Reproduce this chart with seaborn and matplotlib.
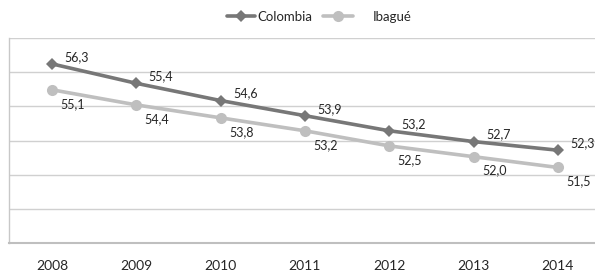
import numpy as np
import pandas as pd
import matplotlib
matplotlib.use('Agg')
import matplotlib.pyplot as plt
import seaborn as sns

# Datos
anios = ['2008', '2009', '2010', '2011', '2012', '2013', '2014']
colombia = [56.3, 55.4, 54.6, 53.9, 53.2, 52.7, 52.3]
ibague = [55.1, 54.4, 53.8, 53.2, 52.5, 52.0, 51.5]
series = ['Colombia', 'Ibagué']

df = pd.DataFrame({
    'pos': list(range(len(anios))) * 2,
    'valor': colombia + ibague,
    'serie': ['Colombia'] * len(anios) + ['Ibagué'] * len(anios),
})

sns.set_style('white')
plt.rcParams['font.family'] = ['Lato', 'DejaVu Sans']

colores = {'Colombia': '#777777', 'Ibagué': '#bfbfbf'}
marcadores = {'Colombia': 'D', 'Ibagué': 'o'}

fig = plt.figure(figsize=(5.95, 2.72), dpi=100)
ax = fig.add_axes([9 / 595, 1 - 243 / 272, 1 - 9 / 595, (243 - 38) / 272])

sns.lineplot(data=df, x='pos', y='valor', hue='serie', style='serie',
             palette=colores, markers=marcadores, dashes=False,
             linewidth=2.6, markeredgewidth=0, ax=ax)
for ln in ax.lines:
    if ln.get_marker() == 'D':
        ln.set_markersize(6)
    else:
        ln.set_markersize(8)

ax.set_xlim(-0.51, 6.44)
ax.set_ylim(48, 57.5)
ax.set_yticks(np.linspace(48, 57.5, 7))
ax.set_yticklabels([])
ax.set_xticks(range(len(anios)))
ax.set_xticklabels(anios)
ax.tick_params(axis='x', length=0, pad=12, labelsize=10, labelcolor='#262626')
ax.tick_params(axis='y', length=0)
ax.set_xlabel('')
ax.set_ylabel('')
ax.grid(axis='y', color='#d0d0d0', linewidth=1)
ax.set_axisbelow(True)

for lado in ['top', 'right']:
    ax.spines[lado].set_visible(False)
ax.spines['left'].set_color('#c8c8c8')
ax.spines['left'].set_linewidth(1)
ax.spines['bottom'].set_color('#bfbfbf')
ax.spines['bottom'].set_linewidth(1.5)

# Etiquetas de datos
for i, v in enumerate(colombia):
    ax.annotate(f'{v:.1f}'.replace('.', ','), (i, v), xytext=(9, 5),
                textcoords='offset points', ha='left', va='center',
                fontsize=9, color='#262626')
for i, v in enumerate(ibague):
    ax.annotate(f'{v:.1f}'.replace('.', ','), (i, v), xytext=(6, -10),
                textcoords='offset points', ha='left', va='center',
                fontsize=9, color='#262626')

# Leyenda: una entrada por serie, como en el original
handles, labels = ax.get_legend_handles_labels()
ax.get_legend().remove()
fig.legend([handles[0]], [labels[0]], loc='center left',
           bbox_to_anchor=(215 / 595, 1 - 17 / 272), frameon=False,
           fontsize=9.5, handlelength=2.1, handletextpad=0.2)
fig.legend([handles[1]], [labels[1]], loc='center left',
           bbox_to_anchor=(311 / 595, 1 - 17 / 272), frameon=False,
           fontsize=9.5, handlelength=2.3, handletextpad=1.5)

fig.savefig('out.png', dpi=100)
